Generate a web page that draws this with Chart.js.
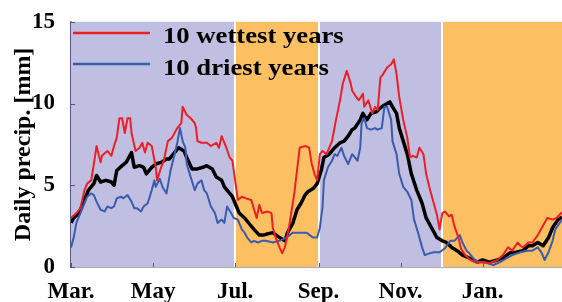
<!DOCTYPE html>
<html lang="en">
<head>
<meta charset="UTF-8">
<title>Daily precipitation</title>
<script src="https://cdn.jsdelivr.net/npm/chart.js"></script>
<style>
  html, body { margin: 0; padding: 0; background: #fff; }
  #chart { display: block; }
</style>
</head>
<body>
<canvas id="chart" width="562" height="302"></canvas>
<script>
// x is days counted from 1 March
const tickDays = [0, 61, 122, 184, 245, 306];
const tickLabels = ['Mar.', 'May', 'Jul.', 'Sep.', 'Nov.', 'Jan.'];
const yTicks = [0, 5, 10, 15];

// shaded seasons
const seasonStart = [0, 122, 184, 276];
const seasonEnd = [122, 184, 276, 365];
const seasonColor = ['#c1bfe1', '#fcc063', '#c1bfe1', '#fcc063'];

const seriesLabels = ['10 wettest years', '10 driest years'];

// 10 wettest years
const wetDays = [0, 4, 7, 10, 12, 15, 17, 19, 22, 23, 27, 30, 32, 34, 36, 38, 40, 42, 44, 45, 48, 51, 53, 55, 57, 60,
  63, 64, 67, 69, 72, 75, 79, 82, 83, 86, 89, 92, 93, 94, 97, 101, 104, 108, 110, 112, 115, 118, 120, 122, 124, 127,
  130, 134, 138, 140, 142, 146, 149, 150, 153, 155, 157, 159, 162, 166, 170, 174, 177, 179, 181, 183, 185, 187, 190,
  192, 194, 197, 200, 202, 205, 208, 209, 212, 214, 217, 218, 221, 224, 226, 228, 230, 232, 235, 238, 240, 242, 244,
  247, 250, 252, 254, 257, 259, 262, 264, 267, 269, 272, 274, 276, 278, 281, 283, 285, 288, 290, 293, 297, 302, 306,
  311, 317, 321, 325, 328, 332, 334, 336, 340, 343, 347, 350, 354, 358, 361, 365];
const wetVals = [3.0, 3.3, 3.6, 4.7, 5.1, 5.3, 6.3, 7.4, 6.4, 6.8, 7.1, 6.8, 7.4, 7.9, 9.1, 9.1, 8.2, 9.1, 9.1, 8.2, 7.1, 7.3, 7.6, 7.0, 7.6, 7.4,
  6.1, 5.3, 6.1, 6.5, 7.7, 7.9, 8.5, 8.8, 9.8, 9.3, 9.1, 8.8, 8.5, 7.7, 7.6, 7.6, 7.4, 7.6, 7.3, 8.0, 7.4, 6.7, 6.5, 5.3, 4.1, 4.3,
  4.2, 4.1, 3.0, 3.8, 3.3, 3.4, 3.3, 2.4, 1.6, 1.2, 0.85, 1.2, 2.4, 4.5, 7.3, 7.4, 7.3, 6.3, 5.7, 5.3, 6.9, 7.1, 6.9,
  7.3, 7.7, 9.0, 10.2, 11.2, 12.0, 11.2, 10.8, 10.4, 10.2, 10.6, 9.8, 10.2, 9.4, 9.8, 9.6, 11.6, 11.8, 12.2, 12.4, 12.7, 11.8, 10.4,
  9.0, 7.9, 6.7, 6.8, 6.7, 7.3, 6.9, 5.7, 4.7, 4.1, 3.2, 2.3, 3.3, 3.4, 3.1, 3.2, 2.5, 1.8, 1.1, 0.73, 0.43, 0.24, 0.3,
  0.24, 0.43, 0.73, 1.2, 1.0, 1.5, 1.3, 1.2, 1.5, 1.5, 1.95, 2.4, 3.0, 2.9, 3.0, 3.35];

// 10 driest years
const dryDays = [0, 2, 4, 7, 10, 12, 15, 17, 19, 22, 25, 27, 30, 32, 34, 37, 39, 42, 45, 47, 49, 52, 54, 57, 60, 62,
  63, 66, 68, 71, 74, 77, 79, 81, 83, 85, 86, 89, 92, 94, 97, 99, 101, 104, 107, 109, 112, 114, 116, 119, 121, 124,
  127, 129, 131, 134, 136, 139, 142, 145, 150, 155, 160, 165, 170, 175, 180, 183, 185, 187, 188, 191, 194, 196, 198,
  201, 203, 206, 209, 211, 213, 215, 216, 218, 220, 223, 226, 228, 231, 233, 235, 238, 239, 242, 244, 247, 250, 253,
  255, 258, 261, 263, 267, 270, 274, 278, 282, 285, 289, 291, 294, 296, 300, 304, 309, 314, 319, 324, 328, 334, 339,
  343, 347, 350, 352, 355, 358, 360, 365];
const dryVals = [1.2, 1.8, 2.7, 3.3, 3.9, 4.3, 4.5, 4.4, 4.0, 3.5, 3.4, 3.7, 3.6, 3.7, 4.2, 4.3, 4.2, 4.4, 4.0, 3.6, 3.6, 3.4, 3.7, 3.9, 4.7, 5.3,
  4.9, 5.4, 4.9, 4.5, 5.9, 6.9, 7.6, 8.5, 7.7, 7.3, 6.3, 5.5, 4.7, 5.1, 5.3, 4.7, 4.5, 3.7, 3.3, 2.7, 2.9, 2.7, 3.7, 3.3, 3.0, 2.9,
  2.3, 2.1, 1.8, 1.5, 1.6, 1.5, 1.6, 1.6, 1.5, 1.6, 1.8, 2.1, 2.1, 2.1, 1.8, 1.8, 2.4, 3.7, 5.3, 6.1, 6.5, 6.9, 6.8,
  7.3, 6.8, 6.3, 6.9, 6.7, 6.5, 7.3, 8.8, 9.1, 8.5, 8.4, 8.5, 8.4, 8.5, 9.8, 9.8, 9.0, 7.7, 6.9, 5.7, 4.9, 4.6, 4.1,
  2.9, 2.1, 1.2, 0.73, 0.85, 0.9, 0.9, 1.15, 1.6, 1.6, 1.95, 1.5, 1.0, 0.85, 0.43, 0.3, 0.24, 0.12, 0.3, 0.55, 0.73, 0.9, 1.0,
  1.0, 1.2, 0.85, 0.43, 0.9, 1.6, 2.3, 2.9];

// all years
const allDays = [0, 2, 6, 10, 13, 17, 19, 22, 26, 30, 32, 34, 38, 41, 45, 47, 51, 54, 56, 60, 63, 67, 71, 73, 77, 80,
  84, 86, 90, 94, 98, 101, 105, 108, 112, 114, 118, 120, 123, 125, 129, 133, 136, 140, 143, 145, 150, 155, 159, 161,
  165, 168, 171, 174, 176, 180, 183, 186, 188, 192, 196, 200, 203, 206, 209, 211, 215, 217, 220, 223, 227, 231, 235,
  237, 239, 242, 244, 247, 250, 253, 257, 261, 264, 268, 272, 276, 279, 283, 287, 291, 296, 302, 306, 311, 317, 321,
  326, 331, 336, 340, 343, 347, 351, 355, 358, 362, 365];
const allVals = [2.7, 3.0, 3.3, 4.1, 4.7, 5.1, 5.6, 5.2, 5.3, 5.2, 5.0, 5.9, 6.2, 6.4, 7.0, 6.1, 6.2, 6.1, 5.7, 6.1, 6.3, 6.4, 6.6, 6.6, 7.0, 7.3,
  7.1, 6.7, 6.0, 6.0, 6.1, 6.2, 6.0, 5.5, 5.3, 4.9, 4.5, 4.3, 3.7, 3.3, 3.0, 2.6, 2.3, 1.95, 1.95, 2.0, 2.1, 1.8, 1.6, 2.1,
  2.7, 3.5, 3.9, 4.4, 4.6, 4.8, 5.1, 5.9, 6.7, 6.9, 7.3, 7.6, 7.7, 8.0, 8.4, 8.5, 9.0, 9.4, 9.0, 9.4, 9.5, 9.8, 10.0,
  10.1, 9.8, 9.4, 8.5, 7.7, 6.9, 5.7, 4.7, 3.9, 3.0, 2.4, 1.8, 1.6, 1.5, 1.2, 1.0, 0.73, 0.55, 0.3, 0.43, 0.3, 0.43, 0.55,
  0.85, 0.9, 1.0, 1.3, 1.3, 1.5, 1.3, 1.8, 2.4, 2.9, 3.05];

const serif = '"Liberation Serif", "Times New Roman", serif';
const axisColor = '#55558a';

function toPoints(days, vals) {
  return days.map((d, i) => ({ x: d, y: vals[i] }));
}

// shaded seasons, white separators and inward tick marks
const seasonPlugin = {
  id: 'seasons',
  beforeDatasetsDraw(chart) {
    const { ctx, chartArea, scales } = chart;
    const x = scales.x;
    ctx.save();
    for (let i = 0; i < seasonStart.length; i++) {
      const x0 = x.getPixelForValue(seasonStart[i]);
      const x1 = x.getPixelForValue(seasonEnd[i]);
      ctx.fillStyle = seasonColor[i];
      ctx.fillRect(x0, chartArea.top, x1 - x0, chartArea.bottom - chartArea.top);
    }
    ctx.strokeStyle = '#ffffff';
    ctx.lineWidth = 2;
    for (let i = 1; i < seasonStart.length; i++) {
      const xp = Math.round(x.getPixelForValue(seasonStart[i]));
      ctx.beginPath();
      ctx.moveTo(xp, chartArea.top);
      ctx.lineTo(xp, chartArea.bottom);
      ctx.stroke();
    }
    ctx.restore();
  },
  afterDatasetsDraw(chart) {
    const { ctx, chartArea, scales } = chart;
    ctx.save();
    ctx.strokeStyle = axisColor;
    ctx.lineWidth = 1;
    tickDays.forEach(d => {
      const xp = Math.round(scales.x.getPixelForValue(d)) + 0.5;
      ctx.beginPath();
      ctx.moveTo(xp, chartArea.bottom);
      ctx.lineTo(xp, chartArea.bottom - 4);
      ctx.stroke();
    });
    yTicks.forEach(v => {
      const yp = Math.round(scales.y.getPixelForValue(v)) + 0.5;
      ctx.beginPath();
      ctx.moveTo(chartArea.left, yp);
      ctx.lineTo(chartArea.left + 4, yp);
      ctx.stroke();
    });

    // legend in the upper left corner (the source font is a bit wide)
    const colors = [chart.data.datasets[0].borderColor, chart.data.datasets[1].borderColor];
    const lineY = [33, 64];
    const textY = [43, 75];
    for (let i = 0; i < seriesLabels.length; i++) {
      ctx.strokeStyle = colors[i];
      ctx.lineWidth = 2.5;
      ctx.beginPath();
      ctx.moveTo(chartArea.left + 2, lineY[i]);
      ctx.lineTo(chartArea.left + 79, lineY[i]);
      ctx.stroke();
      ctx.save();
      ctx.translate(chartArea.left + 92, textY[i]);
      ctx.scale(1.16, 1);
      ctx.font = 'bold 23px ' + serif;
      ctx.textBaseline = 'alphabetic';
      ctx.textAlign = 'left';
      ctx.fillStyle = '#000';
      ctx.fillText(seriesLabels[i], 0, 0);
      ctx.restore();
    }
    ctx.restore();
  }
};

new Chart(document.getElementById('chart'), {
  type: 'line',
  data: {
    datasets: [{
      label: seriesLabels[0],
      data: toPoints(wetDays, wetVals),
      borderColor: '#ec1f27',
      borderWidth: 2
    }, {
      label: seriesLabels[1],
      data: toPoints(dryDays, dryVals),
      borderColor: '#3a5bae',
      borderWidth: 2
    }, {
      label: 'all years',
      data: toPoints(allDays, allVals),
      borderColor: '#000000',
      borderWidth: 3.5
    }]
  },
  options: {
    responsive: false,
    animation: false,
    devicePixelRatio: 1,
    layout: { padding: { top: 21, right: 0, left: 0, bottom: 0 } },
    elements: {
      point: { radius: 0 },
      line: { tension: 0, borderJoinStyle: 'round' }
    },
    scales: {
      x: {
        type: 'linear',
        min: 0,
        max: 365,
        grid: { display: false },
        border: { display: true, color: axisColor, width: 1.5 },
        afterBuildTicks: axis => { axis.ticks = tickDays.map(v => ({ value: v })); },
        afterFit: axis => { axis.height = 35; },
        ticks: {
          autoSkip: false,
          maxRotation: 0,
          padding: 3,
          color: '#000',
          font: { family: serif, size: 23, weight: 'bold' },
          callback: v => tickLabels[tickDays.indexOf(v)]
        }
      },
      y: {
        min: 0,
        max: 15,
        grid: { display: false },
        border: { display: true, color: axisColor, width: 1.5 },
        afterBuildTicks: axis => { axis.ticks = yTicks.map(v => ({ value: v })); },
        afterFit: axis => { axis.width = 71; },
        ticks: {
          padding: 8,
          color: '#000',
          font: { family: serif, size: 23, weight: 'bold' }
        },
        title: {
          display: true,
          text: 'Daily precip. [mm]',
          color: '#000',
          padding: { top: 9, bottom: 0 },
          font: { family: serif, size: 24, weight: 'bold' }
        }
      }
    },
    plugins: {
      legend: { display: false },
      tooltip: { enabled: false }
    }
  },
  plugins: [seasonPlugin]
});
</script>
</body>
</html>
